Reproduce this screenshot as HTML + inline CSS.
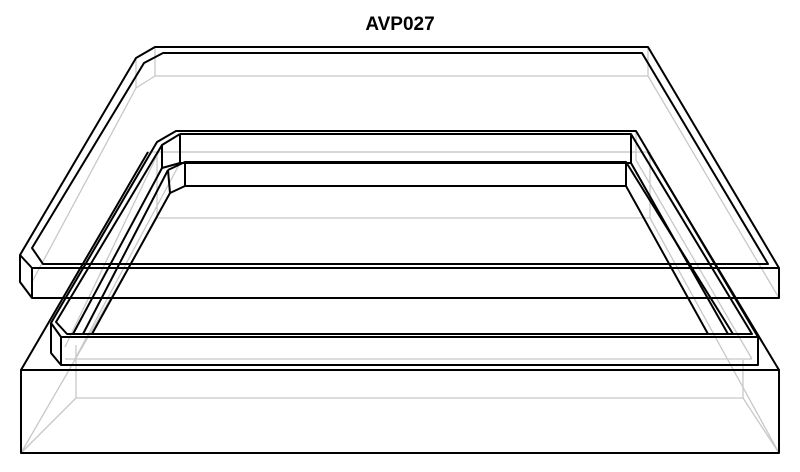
<!DOCTYPE html>
<html><head><meta charset="utf-8"><style>
html,body{margin:0;padding:0;background:#fff;width:800px;height:472px;overflow:hidden}
svg{display:block}
</style></head><body>
<svg width="800" height="472" viewBox="0 0 800 472" xmlns="http://www.w3.org/2000/svg">
<text x="400" y="30" text-anchor="middle" font-family="Liberation Sans, sans-serif" font-weight="bold" font-size="19" fill="#000">AVP027</text>
<g fill="none" stroke="#c8c8c8" stroke-width="1.3">
 <polyline points="155,47 155,76 648,76 648,47"/>
 <line x1="136" y1="58" x2="136" y2="88"/>
 <line x1="136" y1="88" x2="155" y2="76"/>
 <line x1="136" y1="88" x2="32" y2="282"/>
 <line x1="648" y1="76" x2="779" y2="298"/>
 <polyline points="148,152 650,152"/>
 <polyline points="157,152 157,218 650,218 650,152"/>
 <line x1="157" y1="218" x2="21" y2="453"/>
 <line x1="650" y1="218" x2="779" y2="453"/>
 <polyline points="76,345 76,398 743,398 743,360"/>
 <line x1="76" y1="398" x2="21" y2="453"/>
 <line x1="743" y1="398" x2="779" y2="453"/>
 <line x1="65" y1="359" x2="752" y2="359"/>
 <line x1="162" y1="145" x2="65" y2="347"/>
 <line x1="180" y1="163" x2="75" y2="359"/>
 <line x1="636" y1="160" x2="752" y2="359"/>
 <line x1="636" y1="132" x2="636" y2="160"/>
 <line x1="162" y1="152" x2="636" y2="152"/>
</g>
<g fill="none" stroke="#000" stroke-width="2" stroke-linejoin="round">
 <polygon points="155,47 648,47 779,268 779,298 32,298 20,282 20,255 136,58"/>
 <polyline points="20,255 32,268 779,268"/>
 <line x1="32" y1="268" x2="32" y2="298"/>
 <polygon points="163,53 642,53 768,264 43,264 32,248 144,63"/>
 <rect x="21" y="370" width="758" height="83"/>
 <line x1="21" y1="370" x2="148" y2="152"/>
 <line x1="648" y1="152" x2="779" y2="370"/>
 <polygon points="176,131 636,131 758,337 758,365 61,365 51,353 51,323 157,142"/>
 <polyline points="51,323 61,337 758,337"/>
 <line x1="61" y1="337" x2="61" y2="365"/>
 <polyline points="180,134 631,134 752,334 67,334 56,322 162,145 180,134"/>
 <line x1="180" y1="134" x2="180" y2="163"/>
 <line x1="162" y1="145" x2="162" y2="168"/>
 <line x1="631" y1="134" x2="631" y2="163"/>
 <polyline points="162,168 180,163 631,163"/>
 <polyline points="168,170 185,162 626,162 626,186 185,186 185,162"/>
 <polyline points="168,170 170,193 185,186"/>
 <line x1="162" y1="168" x2="73" y2="334"/>
 <line x1="168" y1="170" x2="83" y2="334"/>
 <line x1="170" y1="193" x2="92" y2="334"/>
 <line x1="631" y1="163" x2="728" y2="334"/>
 <line x1="626" y1="162" x2="733" y2="334"/>
 <line x1="626" y1="186" x2="708" y2="334"/>
</g>
</svg>
</body></html>
